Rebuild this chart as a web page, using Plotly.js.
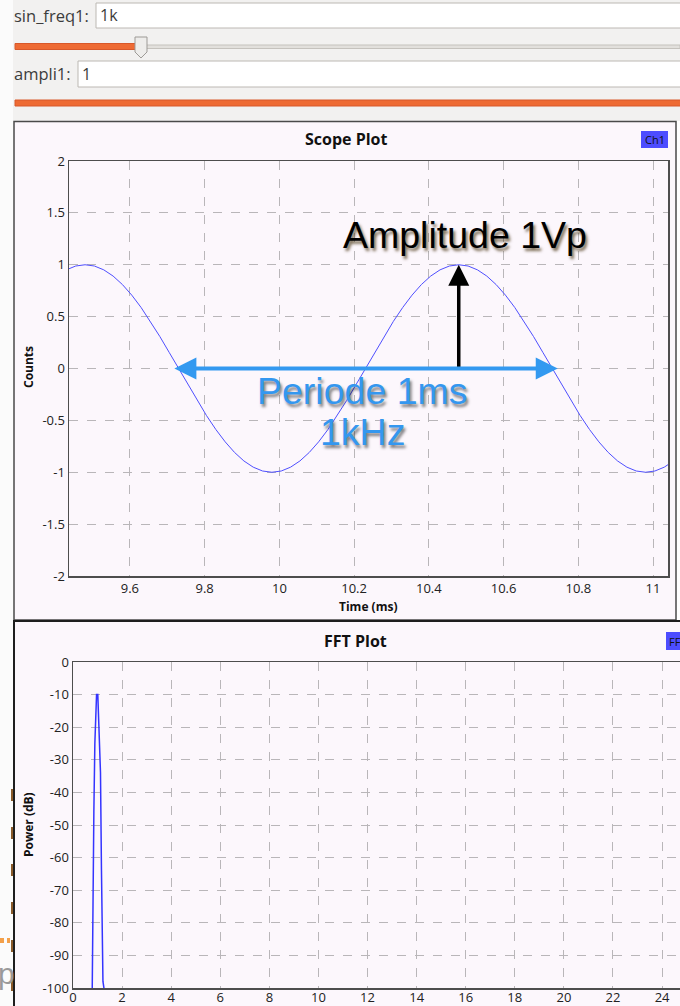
<!DOCTYPE html>
<html><head><meta charset="utf-8">
<script src="https://cdn.plot.ly/plotly-3.0.1.min.js"></script>
<style>html,body{margin:0;padding:0;background:#fff;overflow:hidden}#chart{width:680px;height:1006px}</style>
</head><body><div id="chart"></div>
<script>
// ---- data ----
const scopeTime = [9.43,9.455,9.48,9.505,9.53,9.555,9.58,9.605,9.63,9.655,9.68,9.705,9.73,9.755,9.78,9.805,9.83,9.855,9.88,9.905,9.93,9.955,9.98,10.005,10.03,10.055,10.08,10.105,10.13,10.155,10.18,10.205,10.23,10.255,10.28,10.305,10.33,10.355,10.38,10.405,10.43,10.455,10.48,10.505,10.53,10.555,10.58,10.605,10.63,10.655,10.68,10.705,10.73,10.755,10.78,10.805,10.83,10.855,10.88,10.905,10.93,10.955,10.98,11.005,11.03,11.055];
const scopeCounts = [0.951,0.988,1,0.988,0.951,0.891,0.809,0.707,0.588,0.454,0.309,0.156,0,-0.156,-0.309,-0.454,-0.588,-0.707,-0.809,-0.891,-0.951,-0.988,-1,-0.988,-0.951,-0.891,-0.809,-0.707,-0.588,-0.454,-0.309,-0.156,0,0.156,0.309,0.454,0.588,0.707,0.809,0.891,0.951,0.988,1,0.988,0.951,0.891,0.809,0.707,0.588,0.454,0.309,0.156,0,-0.156,-0.309,-0.454,-0.588,-0.707,-0.809,-0.891,-0.951,-0.988,-1,-0.988,-0.951,-0.891];
const fftFreq  = [0.76,0.78,0.81,0.85,0.89,0.92,0.96,1.01,1.05,1.12,1.16,1.22,1.26,1.28];
const fftPower = [-120,-100,-78,-46,-25,-14,-10,-10,-19,-34,-64,-98,-100,-120];

const scopeXTicks = [9.6,9.8,10,10.2,10.4,10.6,10.8,11];
const scopeXLabels = ['9.6','9.8','10','10.2','10.4','10.6','10.8','11'];
const scopeYTicks = [-2,-1.5,-1,-0.5,0,0.5,1,1.5,2];
const scopeYLabels = ['-2','-1.5','-1','-0.5','0','0.5','1','1.5','2'];
const fftXTicks = [0,2,4,6,8,10,12,14,16,18,20,22,24];
const fftXLabels = ['0','2','4','6','8','10','12','14','16','18','20','22','24'];
const fftYTicks = [0,-10,-20,-30,-40,-50,-60,-70,-80,-90,-100];
const fftYLabels = ['0','-10','-20','-30','-40','-50','-60','-70','-80','-90','-100'];

const widgetFreqLabel = 'sin_freq1:', widgetFreqValue = '1k';
const widgetAmpLabel = 'ampli1:', widgetAmpValue = '1';

// ---- layout helpers (pixel -> paper) ----
const W = 680, H = 1006;
const px = x => x / W, py = y => 1 - y / H;
function rect(x0, y0, x1, y1, fill, line, lw, layer) {
  return {type:'rect', xref:'paper', yref:'paper', x0:px(x0), x1:px(x1), y0:py(y1), y1:py(y0),
    fillcolor: fill, line:{color: line || 'rgba(0,0,0,0)', width: lw || 0}, layer: layer || 'below'};
}
function path(pts, fill, line) {
  const d = pts.map((p, i) => (i ? 'L' : 'M') + px(p[0]).toFixed(5) + ',' + py(p[1]).toFixed(5)).join(' ') + ' Z';
  return {type:'path', xref:'paper', yref:'paper', path:d, fillcolor:fill, line:{color:line, width:1}, layer:'above'};
}
function txt(x, y, text, opts) {
  return Object.assign({xref:'paper', yref:'paper', x:px(x), y:py(y), text:text, showarrow:false,
    xanchor:'left', yanchor:'middle'}, opts);
}

const bg = '#fcf7fc';
const uiFont = 'Open Sans, Noto Sans, sans-serif';
const tickFont = {family: uiFont, size: 13, color: '#222222'};

const shapes = [
  rect(0, 0, 13, 1006, '#fbfbfb'),
  rect(13, 0, 680, 121, '#f2f1f0'),
  rect(96, 3, 684, 28, '#ffffff', '#bcb8b3', 1),
  rect(16, 45, 680, 48.5, '#e2e0dc', '#c5c2bd', 1),
  rect(15, 43.5, 141, 49.5, '#ee6b34', '#d8582a', 1),
  rect(78, 61, 684, 87, '#ffffff', '#bcb8b3', 1),
  rect(15, 100, 684, 106, '#ee6b34', '#d8582a', 1),
  rect(14, 121.5, 676, 620, bg, '#4a4a4a', 1.5),
  rect(14, 621, 700, 1012, bg, '#1e1e1e', 2),
  rect(641, 131, 668, 148, '#4d4dff'),
  rect(666, 632, 700, 650, '#4d4dff'),
];
shapes.push(path([[135,37],[147,37],[147,52],[141,58],[135,52]], '#eeedeb', '#9d9a96'));
// artifacts from the window behind, on the left strip
[795, 833, 870, 908, 946, 985].forEach(y => shapes.push(rect(11, y - 6, 13, y + 6, '#8a5a2a')));
shapes.push(rect(0, 938, 4, 943, '#f3a04a'));
shapes.push(rect(7, 938, 10, 943, '#f3a04a'));

const annotations = [
  txt(12, 15, widgetFreqLabel, {font:{family:uiFont, size:16.5, color:'#3c3c3c'}}),
  txt(98, 15, widgetFreqValue, {font:{family:uiFont, size:16, color:'#3c3c3c'}}),
  txt(12, 74, widgetAmpLabel, {font:{family:uiFont, size:16.5, color:'#3c3c3c'}}),
  txt(80, 74, widgetAmpValue, {font:{family:uiFont, size:16, color:'#3c3c3c'}}),
  txt(346, 139, '<b>Scope Plot</b>', {xanchor:'center', font:{family:uiFont, size:16, color:'#111'}}),
  txt(355, 641, '<b>FFT Plot</b>', {xanchor:'center', font:{family:uiFont, size:16, color:'#111'}}),
  txt(654.5, 139.5, 'Ch1', {xanchor:'center', font:{family:uiFont, size:11, color:'#111'}}),
  txt(667, 641, 'FF', {xanchor:'left', font:{family:uiFont, size:11, color:'#111'}}),
  txt(368, 606, '<b>Time (ms)</b>', {xanchor:'center', font:{family:uiFont, size:12, color:'#111'}}),
  txt(28, 367, '<b>Counts</b>', {xanchor:'center', textangle:-90, font:{family:uiFont, size:12, color:'#111'}}),
  txt(28, 825, '<b>Power (dB)</b>', {xanchor:'center', textangle:-90, font:{family:uiFont, size:12, color:'#111'}}),
  txt(-4, 973, 'p', {font:{family:'Liberation Sans', size:30, color:'#9a9a9a'}}),
  // callouts
  {x:10.48, y:1, ax:10.48, ay:0, xref:'x', yref:'y', axref:'x', ayref:'y', showarrow:true, text:'',
   arrowhead:2, arrowsize:1.2, arrowwidth:3.5, arrowcolor:'#000000', standoff:0},
  {x:10.745, y:0, ax:9.715, ay:0, xref:'x', yref:'y', axref:'x', ayref:'y', showarrow:true, text:'',
   arrowhead:2, arrowside:'end+start', arrowsize:1.1, arrowwidth:4, arrowcolor:'#3399f0', standoff:0, startstandoff:0},
  txt(465, 235, 'Amplitude 1Vp', {xanchor:'center', font:{family:'Liberation Sans, Arial, sans-serif', size:37.5, color:'#000000', shadow:'2px 3px 3px rgba(60,40,0,0.65)'}}),
  txt(362, 391, 'Periode 1ms', {xanchor:'center', font:{family:'Liberation Sans, Arial, sans-serif', size:37.5, color:'#3497ef', shadow:'2px 3px 3px rgba(0,0,0,0.5)'}}),
  txt(362, 432, '1kHz', {xanchor:'center', font:{family:'Liberation Sans, Arial, sans-serif', size:37.5, color:'#3497ef', shadow:'2px 3px 3px rgba(0,0,0,0.5)'}}),
];

const gridStyle = {showgrid:true, gridcolor:'#b9b6b9', griddash:'dash', gridwidth:1, zeroline:false,
  showline:true, linecolor:'#4d4d4d', linewidth:1.5, ticks:'', tickfont:tickFont, fixedrange:true};

const layout = {
  width: W, height: H, margin:{l:0, r:0, t:0, b:0},
  paper_bgcolor:'#ffffff', plot_bgcolor: bg, showlegend:false,
  xaxis: Object.assign({}, gridStyle, {domain:[px(69), px(668)], range:[9.437, 11.04], tickmode:'array',
    tickvals:scopeXTicks, ticktext:scopeXLabels, mirror:true, anchor:'y'}),
  yaxis: Object.assign({}, gridStyle, {domain:[py(576), py(161)], range:[-2, 2], tickmode:'array',
    tickvals:scopeYTicks, ticktext:scopeYLabels, mirror:true, anchor:'x'}),
  xaxis2: Object.assign({}, gridStyle, {domain:[px(73), 1], range:[0, 24.73], tickmode:'array',
    tickvals:fftXTicks, ticktext:fftXLabels, mirror:true, anchor:'y2', ticklabelstandoff:-3}),
  yaxis2: Object.assign({}, gridStyle, {domain:[py(988), py(662)], range:[-100, 0], tickmode:'array',
    tickvals:fftYTicks, ticktext:fftYLabels, mirror:false, anchor:'x2'}),
  shapes: shapes,
  annotations: annotations,
};

const data = [
  {x: scopeTime, y: scopeCounts, type:'scatter', mode:'lines', xaxis:'x', yaxis:'y',
   line:{color:'#4f4fff', width:1}, hoverinfo:'skip'},
  {x: fftFreq, y: fftPower, type:'scatter', mode:'lines', xaxis:'x2', yaxis:'y2',
   line:{color:'#3434ff', width:1.5}, hoverinfo:'skip'},
];

Plotly.newPlot('chart', data, layout, {displayModeBar:false, staticPlot:true});
</script></body></html>
